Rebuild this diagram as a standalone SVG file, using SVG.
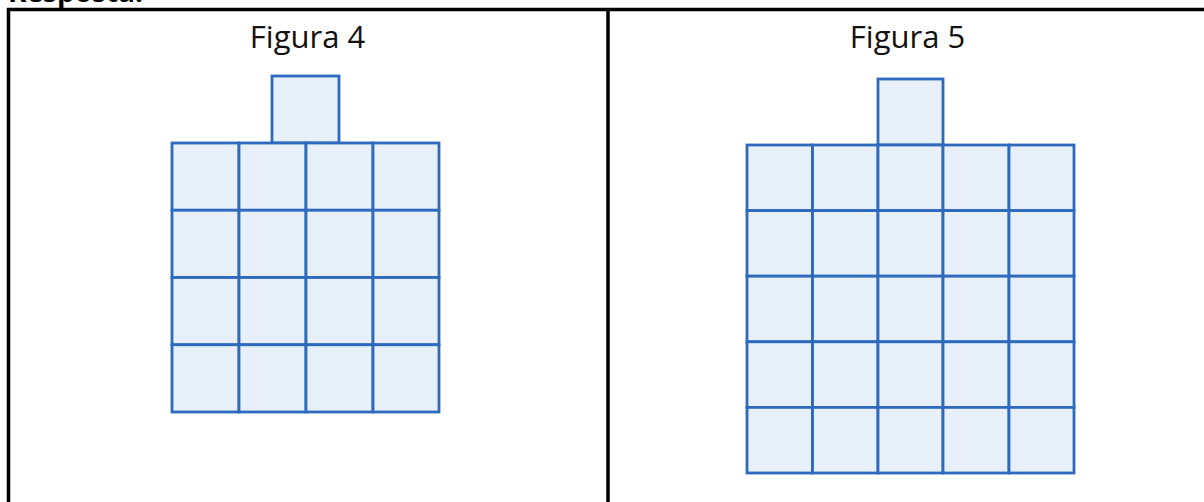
<svg xmlns="http://www.w3.org/2000/svg" width="1204" height="502" viewBox="0 0 1204 502">
<style>
.b{stroke:#000;stroke-width:3.5;fill:none}
.c{fill:#e7eff9;stroke:#2d69bd;stroke-width:2.8}
.t{font-family:"Open Sans","Noto Sans",sans-serif;font-size:31px;fill:#111;text-anchor:middle}
.h{font-family:"Open Sans","Noto Sans",sans-serif;font-size:28px;font-weight:bold;fill:#000}
</style>
<rect width="1204" height="502" fill="#fff"/>
<text class="h" x="8" y="2">Resposta:</text>
<g id="table">
<line class="b" x1="7" y1="9.5" x2="1204" y2="9.5"/>
<line class="b" x1="8.5" y1="8" x2="8.5" y2="502"/>
<line class="b" x1="608" y1="8" x2="608" y2="502"/>
</g>
<g id="figura4">
<text class="t" x="307.5" y="47.5">Figura 4</text>
<rect class="c" x="272" y="76" width="67" height="67"/>
<g>
<rect class="c" x="172" y="143" width="67" height="67.25"/><rect class="c" x="239" y="143" width="67" height="67.25"/><rect class="c" x="306" y="143" width="67" height="67.25"/><rect class="c" x="373" y="143" width="66" height="67.25"/>
<rect class="c" x="172" y="210.25" width="67" height="67.25"/><rect class="c" x="239" y="210.25" width="67" height="67.25"/><rect class="c" x="306" y="210.25" width="67" height="67.25"/><rect class="c" x="373" y="210.25" width="66" height="67.25"/>
<rect class="c" x="172" y="277.5" width="67" height="67.25"/><rect class="c" x="239" y="277.5" width="67" height="67.25"/><rect class="c" x="306" y="277.5" width="67" height="67.25"/><rect class="c" x="373" y="277.5" width="66" height="67.25"/>
<rect class="c" x="172" y="344.75" width="67" height="67.25"/><rect class="c" x="239" y="344.75" width="67" height="67.25"/><rect class="c" x="306" y="344.75" width="67" height="67.25"/><rect class="c" x="373" y="344.75" width="66" height="67.25"/>
</g>
</g>
<g id="figura5">
<text class="t" x="907.5" y="47.5">Figura 5</text>
<rect class="c" x="878" y="79" width="65" height="66"/>
<g>
<rect class="c" x="747" y="145" width="65.5" height="65.6"/><rect class="c" x="812.5" y="145" width="65.5" height="65.6"/><rect class="c" x="878" y="145" width="65" height="65.6"/><rect class="c" x="943" y="145" width="66" height="65.6"/><rect class="c" x="1009" y="145" width="65" height="65.6"/>
<rect class="c" x="747" y="210.6" width="65.5" height="65.6"/><rect class="c" x="812.5" y="210.6" width="65.5" height="65.6"/><rect class="c" x="878" y="210.6" width="65" height="65.6"/><rect class="c" x="943" y="210.6" width="66" height="65.6"/><rect class="c" x="1009" y="210.6" width="65" height="65.6"/>
<rect class="c" x="747" y="276.2" width="65.5" height="65.6"/><rect class="c" x="812.5" y="276.2" width="65.5" height="65.6"/><rect class="c" x="878" y="276.2" width="65" height="65.6"/><rect class="c" x="943" y="276.2" width="66" height="65.6"/><rect class="c" x="1009" y="276.2" width="65" height="65.6"/>
<rect class="c" x="747" y="341.8" width="65.5" height="65.6"/><rect class="c" x="812.5" y="341.8" width="65.5" height="65.6"/><rect class="c" x="878" y="341.8" width="65" height="65.6"/><rect class="c" x="943" y="341.8" width="66" height="65.6"/><rect class="c" x="1009" y="341.8" width="65" height="65.6"/>
<rect class="c" x="747" y="407.4" width="65.5" height="65.6"/><rect class="c" x="812.5" y="407.4" width="65.5" height="65.6"/><rect class="c" x="878" y="407.4" width="65" height="65.6"/><rect class="c" x="943" y="407.4" width="66" height="65.6"/><rect class="c" x="1009" y="407.4" width="65" height="65.6"/>
</g>
</g>
</svg>
